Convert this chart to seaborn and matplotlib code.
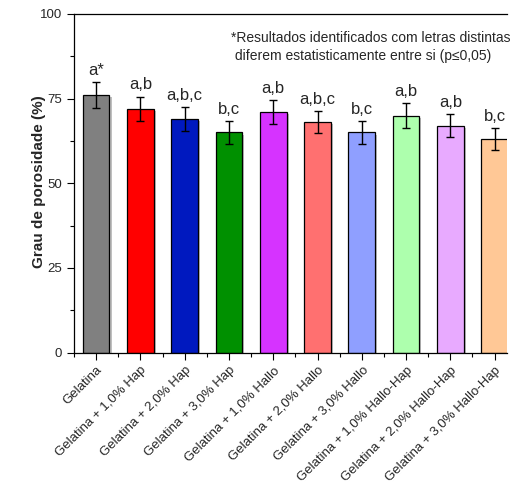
import matplotlib
matplotlib.use("Agg")
import matplotlib.pyplot as plt
import matplotlib.patheffects as pe
from matplotlib.ticker import MultipleLocator, FixedLocator
import numpy as np
import pandas as pd
import seaborn as sns

categories = [
    "Gelatina",
    "Gelatina + 1,0% Hap",
    "Gelatina + 2,0% Hap",
    "Gelatina + 3,0% Hap",
    "Gelatina + 1,0% Hallo",
    "Gelatina + 2,0% Hallo",
    "Gelatina + 3,0% Hallo",
    "Gelatina + 1,0% Hallo-Hap",
    "Gelatina + 2,0% Hallo-Hap",
    "Gelatina + 3,0% Hallo-Hap",
]
porosity = [76, 72, 69, 65, 71, 68, 65, 70, 67, 63]
std_dev = [3.8, 3.6, 3.5, 3.3, 3.6, 3.3, 3.3, 3.6, 3.4, 3.2]
letters = ["a*", "a,b", "a,b,c", "b,c", "a,b", "a,b,c", "b,c", "a,b", "a,b", "b,c"]
colors = ["#808080", "#FF0000", "#0019BF", "#009000", "#D633FF",
          "#FF7070", "#8F9FFF", "#ADFFAD", "#E8AAFF", "#FFC896"]
y_ticks = [0, 25, 50, 75, 100]
note = "*Resultados identificados com letras distintas\n diferem estatisticamente entre si (p≤0,05)"

sns.set_theme(style="ticks")
plt.rcParams["font.family"] = ["Liberation Sans", "DejaVu Sans"]

df = pd.DataFrame({"amostra": categories, "porosidade": porosity, "dp": std_dev})

fig = plt.figure(figsize=(5.12, 4.84), dpi=100)
ax = fig.add_axes([74 / 512, (484 - 352.5) / 484, (507 - 74) / 512, (352.5 - 14) / 484])

sns.barplot(data=df, x="amostra", y="porosidade", hue="amostra", palette=colors,
            order=categories, hue_order=categories, width=0.6, errorbar=None,
            saturation=1, edgecolor="black", linewidth=0.9, legend=False, ax=ax)

for bar in ax.patches:
    bar.set_path_effects([pe.SimplePatchShadow(offset=(1.5, -1.5), shadow_rgbFace="gray", alpha=0.5),
                          pe.Normal()])

x = np.arange(len(categories))
ax.errorbar(x, porosity, yerr=std_dev, fmt="none", ecolor="black",
            elinewidth=1.0, capsize=2.6, capthick=1.0, zorder=5)

for xi, v, e, lab in zip(x, porosity, std_dev, letters):
    ax.annotate(lab, (xi, v + e), xytext=(0, 3), textcoords="offset points",
                ha="center", va="bottom", fontsize=12)

ax.text(231 / 512, (484 - 47) / 484, note, transform=fig.transFigure,
        ha="left", va="center", fontsize=10, linespacing=1.3)

ax.set_ylim(0, 100)
ax.set_xlim(-0.5, 9.28)
ax.yaxis.set_major_locator(FixedLocator(y_ticks))
ax.yaxis.set_minor_locator(MultipleLocator(12.5))
ax.xaxis.set_minor_locator(FixedLocator(np.arange(-0.5, 9.6, 1.0)))
ax.tick_params(axis="both", which="major", direction="out", length=5, width=0.8,
               labelsize=9.5, color="black")
ax.tick_params(axis="both", which="minor", direction="out", length=3, width=0.8, color="black")
ax.set_xticks(x)
ax.set_xticklabels(categories, rotation=45, ha="right", rotation_mode="anchor", fontsize=9.5)
ax.set_xlabel("")
ax.set_ylabel("Grau de porosidade (%)", fontsize=11, fontweight="bold")
ax.yaxis.set_label_coords(-0.064, 0.504)

for side in ["left", "bottom", "top"]:
    ax.spines[side].set_visible(True)
    ax.spines[side].set_color("black")
    ax.spines[side].set_linewidth(0.9)
ax.spines["right"].set_visible(False)

fig.savefig("out.png", dpi=100)
